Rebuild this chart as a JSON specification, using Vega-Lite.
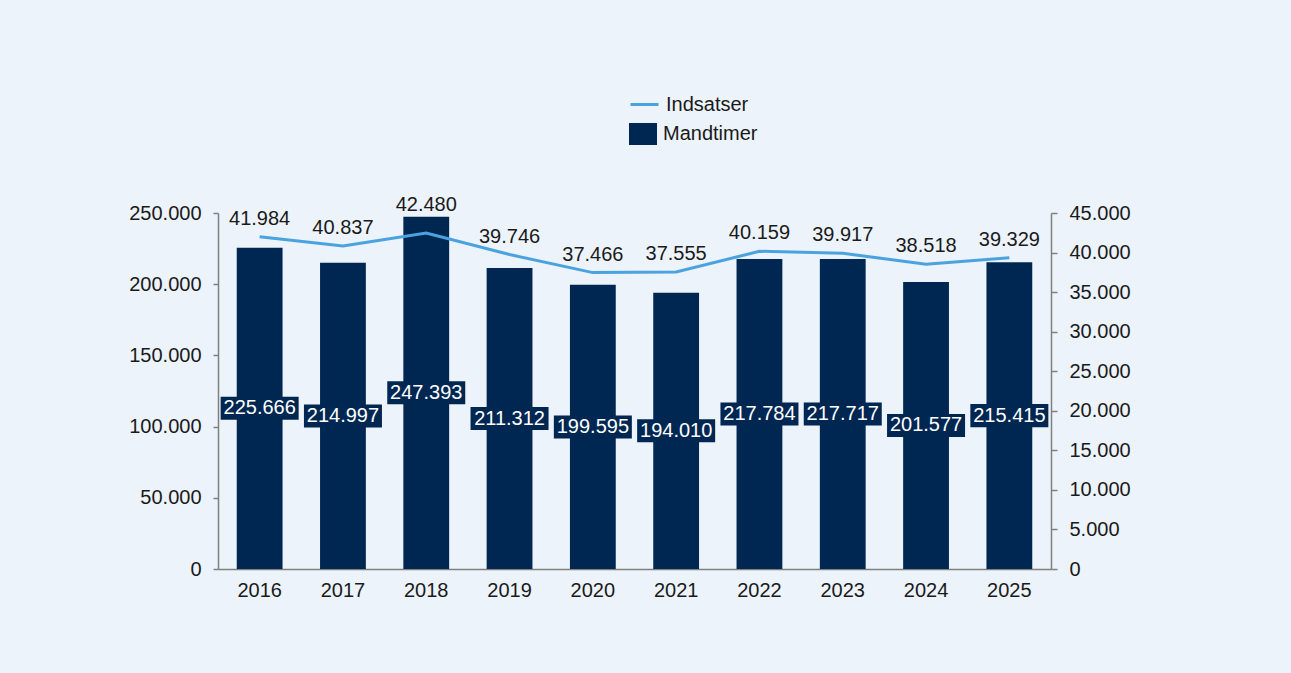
{
  "$schema": "https://vega.github.io/schema/vega-lite/v6.json",
  "width": 833,
  "height": 356,
  "autosize": {"type": "none"},
  "padding": {"left": 218, "top": 213, "right": 240, "bottom": 104},
  "background": "#ecf3fa",
  "config": {
    "locale": {"number": {"decimal": ",", "thousands": ".", "grouping": [3], "currency": ["", " kr."]}},
    "view": {"stroke": null},
    "font": "Liberation Sans",
    "axis": {
      "labelFont": "Liberation Sans",
      "labelFontSize": 20,
      "labelColor": "#1a1a1a",
      "domainColor": "#808080",
      "domainWidth": 1.5,
      "tickColor": "#808080",
      "tickWidth": 1.5,
      "grid": false,
      "title": null,
      "labelOverlap": false
    },
    "legend": {
      "labelFont": "Liberation Sans",
      "labelFontSize": 20,
      "labelColor": "#1a1a1a",
      "padding": 0,
      "title": null
    }
  },
  "data": {
    "values": [
      {"year": "2016", "mandtimer": 225666, "indsatser": 41984},
      {"year": "2017", "mandtimer": 214997, "indsatser": 40837},
      {"year": "2018", "mandtimer": 247393, "indsatser": 42480},
      {"year": "2019", "mandtimer": 211312, "indsatser": 39746},
      {"year": "2020", "mandtimer": 199595, "indsatser": 37466},
      {"year": "2021", "mandtimer": 194010, "indsatser": 37555},
      {"year": "2022", "mandtimer": 217784, "indsatser": 40159},
      {"year": "2023", "mandtimer": 217717, "indsatser": 39917},
      {"year": "2024", "mandtimer": 201577, "indsatser": 38518},
      {"year": "2025", "mandtimer": 215415, "indsatser": 39329}
    ]
  },
  "encoding": {
    "x": {
      "field": "year",
      "type": "ordinal",
      "scale": {"paddingInner": 0.45, "paddingOuter": 0.225},
      "axis": {"labelAngle": 0, "ticks": false, "tickSize": 0, "labelPadding": 11}
    }
  },
  "layer": [
    {
      "mark": {"type": "bar"},
      "encoding": {
        "y": {
          "field": "mandtimer",
          "type": "quantitative",
          "scale": {"domain": [0, 250000], "nice": false},
          "axis": {"orient": "left", "values": [0, 50000, 100000, 150000, 200000, 250000], "format": ",d", "tickSize": 5, "labelPadding": 12}
        },
        "fill": {
          "datum": "Mandtimer",
          "type": "nominal",
          "scale": {"domain": ["Mandtimer"], "range": ["#002752"]},
          "legend": {
            "orient": "none",
            "legendX": 411,
            "legendY": -93,
            "symbolType": "M-1,-0.786H1V0.786H-1Z",
            "symbolSize": 784,
            "symbolStrokeWidth": 0,
            "labelOffset": 6
          }
        }
      }
    },
    {
      "encoding": {
        "y": {
          "field": "mandtimer",
          "type": "quantitative",
          "scale": {"domain": [0, 500000], "nice": false},
          "axis": null
        }
      },
      "layer": [
        {
          "mark": {"type": "point", "shape": "M-1,-0.295H1V0.295H-1Z", "size": 6084, "filled": true, "color": "#002752", "opacity": 1, "strokeWidth": 0}
        },
        {
          "mark": {"type": "text", "color": "#ffffff", "fontSize": 20, "baseline": "middle", "align": "center"},
          "encoding": {
            "text": {"field": "mandtimer", "type": "quantitative", "format": ",d"}
          }
        }
      ]
    },
    {
      "encoding": {
        "y": {
          "field": "indsatser",
          "type": "quantitative",
          "scale": {"domain": [0, 45000], "nice": false},
          "axis": {"orient": "right", "values": [0, 5000, 10000, 15000, 20000, 25000, 30000, 35000, 40000, 45000], "format": ",d", "tickSize": 6, "labelPadding": 12}
        }
      },
      "layer": [
        {
          "mark": {"type": "line", "strokeWidth": 3},
          "encoding": {
            "stroke": {
              "datum": "Indsatser",
              "type": "nominal",
              "scale": {"domain": ["Indsatser"], "range": ["#4aa3df"]},
              "legend": {
                "orient": "none",
                "legendX": 411,
                "legendY": -124,
                "symbolType": "stroke",
                "symbolSize": 784,
                "symbolStrokeWidth": 3,
                "labelOffset": 6
              }
            }
          }
        },
        {
          "transform": [{"filter": "datum.year != '2018'"}],
          "mark": {"type": "text", "color": "#1a1a1a", "fontSize": 20, "baseline": "alphabetic", "align": "center", "dy": -12},
          "encoding": {
            "text": {"field": "indsatser", "type": "quantitative", "format": ",d"}
          }
        },
        {
          "transform": [{"filter": "datum.year == '2018'"}],
          "mark": {"type": "text", "color": "#1a1a1a", "fontSize": 20, "baseline": "alphabetic", "align": "center", "dy": -22},
          "encoding": {
            "text": {"field": "indsatser", "type": "quantitative", "format": ",d"}
          }
        }
      ]
    }
  ],
  "resolve": {"scale": {"y": "independent"}}
}
